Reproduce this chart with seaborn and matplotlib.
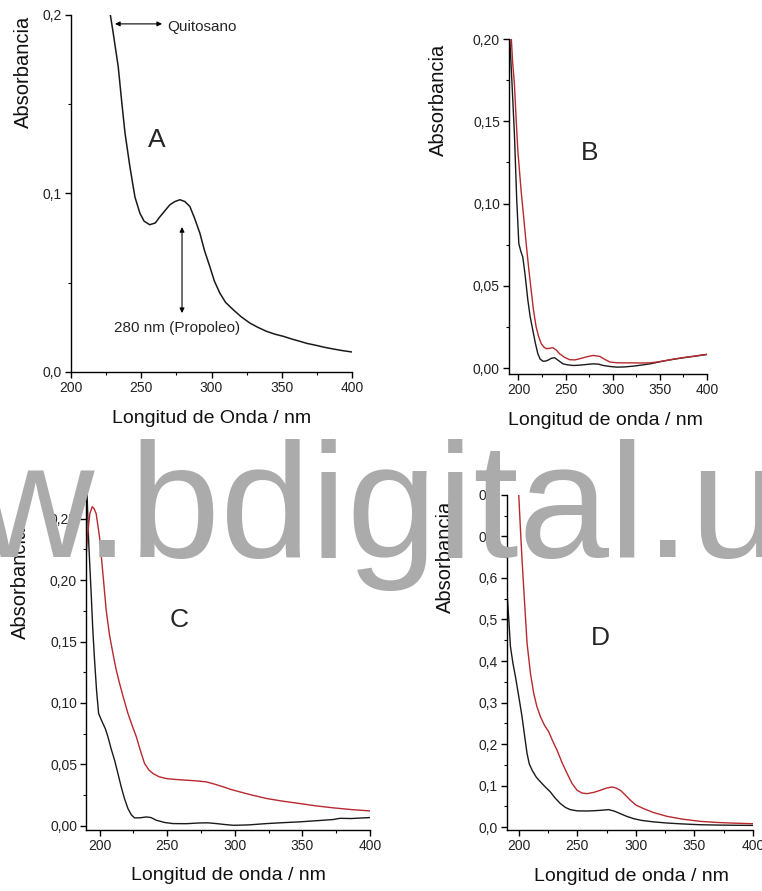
import matplotlib
matplotlib.use("Agg")
import matplotlib.pyplot as plt
import seaborn as sns

# Panel A - chitosan film (single spectrum)
a_nm = [228, 230, 233.6, 236, 238.4, 241.9, 245.5, 249, 252, 256, 260, 263.3, 267, 270.4,
        274, 277.5, 281, 284.6, 288, 291.7, 295, 298.8, 302, 305.9, 310, 315.4, 321, 327.3,
        333, 339.1, 345, 351, 357, 362.8, 368, 374.6, 380, 386.5, 393, 400]
a_abs = [0.200, 0.190, 0.171, 0.152, 0.134, 0.115, 0.098, 0.089, 0.0845, 0.0825, 0.0835,
         0.087, 0.0905, 0.0937, 0.0955, 0.0965, 0.0955, 0.0927, 0.086, 0.0778, 0.068, 0.059,
         0.051, 0.0442, 0.039, 0.0349, 0.031, 0.0274, 0.025, 0.0228, 0.0212, 0.0200, 0.0185,
         0.0172, 0.016, 0.0149, 0.0139, 0.0129, 0.0120, 0.0112]

# Panel B
b_nm_black = [190.4, 193, 195.7, 198.2, 200.4, 202.5, 204.6, 207, 210, 212.5, 215.3, 218,
              220.6, 223, 226, 229, 232, 235, 238.4, 242, 247.2, 252, 258, 265, 272, 279.2,
              285, 290, 297, 304, 312, 321.8, 330, 339.6, 348, 357.4, 366, 375, 388, 400]
b_abs_black = [0.205, 0.175, 0.1426, 0.102, 0.0757, 0.071, 0.0675, 0.057, 0.0412, 0.031,
               0.0229, 0.015, 0.0087, 0.0055, 0.0042, 0.0043, 0.005, 0.006, 0.0063, 0.0048,
               0.0026, 0.002, 0.0016, 0.0018, 0.0022, 0.0026, 0.0024, 0.0016, 0.001, 0.0006,
               0.0007, 0.0012, 0.0018, 0.0026, 0.0036, 0.0047, 0.0055, 0.0063, 0.0073, 0.0083]
b_nm_red = [192, 193.8, 195.7, 197.5, 199.3, 202.8, 205.5, 208.2, 211, 213.5, 216, 218.8,
            221.5, 224.2, 227, 229.5, 233, 236.6, 240, 243.7, 249, 254.4, 260, 265, 272,
            279.2, 286.3, 292, 297, 305, 321.8, 330, 339.6, 348, 357.4, 366, 375, 388, 400]
b_abs_red = [0.205, 0.186, 0.173, 0.152, 0.1325, 0.108, 0.092, 0.0757, 0.060, 0.0473, 0.035,
             0.025, 0.019, 0.0148, 0.0128, 0.0118, 0.0120, 0.0124, 0.011, 0.0087, 0.0065,
             0.0051, 0.005, 0.0057, 0.0068, 0.0077, 0.0071, 0.0052, 0.0037, 0.0032, 0.0032,
             0.0031, 0.0032, 0.0038, 0.0047, 0.0056, 0.0064, 0.0074, 0.0084]

# Panel C
c_nm_black = [190.6, 192, 193.8, 195, 196.3, 197.8, 199.3, 201, 202.5, 204.3, 206.2, 208.5,
              211.1, 213.5, 216, 218.5, 221, 223.5, 225.9, 230, 234.6, 238, 242, 248, 254.3,
              264, 274, 280, 286.4, 292, 298.8, 310, 323.5, 335, 348, 360, 372.8, 378, 386, 400]
c_abs_black = [0.275, 0.23, 0.189, 0.16, 0.135, 0.11, 0.0915, 0.087, 0.0833, 0.079, 0.0725,
               0.063, 0.0535, 0.043, 0.0318, 0.022, 0.0141, 0.009, 0.0065, 0.0066, 0.0073,
               0.0068, 0.0046, 0.0028, 0.0019, 0.0018, 0.0024, 0.0025, 0.0019, 0.0012, 0.0005,
               0.0008, 0.0019, 0.0026, 0.0033, 0.0042, 0.0052, 0.0062, 0.006, 0.0068]
c_nm_red = [189.6, 191, 192.8, 194.6, 196, 197.5, 200, 202.5, 204.9, 207.4, 209.9, 212.3,
            214.8, 218, 221, 224, 227.2, 230, 233.3, 236.5, 239.5, 244, 249.4, 256, 264.2,
            272, 279, 285, 291.4, 297, 303.7, 313, 323.5, 335, 348.1, 360, 372.8, 386, 400]
c_abs_red = [0.211, 0.235, 0.254, 0.2597, 0.258, 0.254, 0.235, 0.205, 0.1756, 0.155, 0.1403,
             0.127, 0.1159, 0.103, 0.0915, 0.082, 0.0725, 0.062, 0.0507, 0.0455, 0.0426, 0.040,
             0.0385, 0.0378, 0.0372, 0.0366, 0.0358, 0.034, 0.0318, 0.0297, 0.0277, 0.025,
             0.0223, 0.0202, 0.0182, 0.0163, 0.0147, 0.0133, 0.0122]

# Panel D
d_nm_black = [190, 191.5, 192.9, 195, 197.2, 200, 202.8, 205, 207.1, 209, 211.4, 215, 218.5,
              222.5, 227, 231, 235.6, 240, 244.1, 250, 258.3, 264, 269.7, 276.8, 282, 286.8,
              292, 298.2, 305, 315, 326.6, 340, 355, 370, 385, 400]
d_abs_black = [0.564, 0.5, 0.435, 0.395, 0.362, 0.315, 0.266, 0.22, 0.177, 0.152, 0.137,
               0.12, 0.109, 0.097, 0.0846, 0.07, 0.0564, 0.047, 0.0419, 0.039, 0.0387, 0.0393,
               0.0403, 0.042, 0.038, 0.0322, 0.026, 0.0201, 0.016, 0.0125, 0.0097, 0.0075,
               0.0056, 0.0048, 0.0043, 0.004]
d_nm_red = [200, 201.4, 202.8, 205, 207.1, 210, 212.8, 215.5, 218.5, 222, 225.6, 229, 232.7,
            237, 241.3, 245.5, 249.8, 254, 258.3, 264, 269.7, 275, 279.7, 283, 286.8, 291,
            295.4, 300, 306.7, 315, 326.6, 340, 355, 370, 385, 400]
d_abs_red = [0.80, 0.72, 0.644, 0.54, 0.443, 0.37, 0.322, 0.29, 0.266, 0.245, 0.2295, 0.207,
             0.185, 0.155, 0.129, 0.105, 0.0886, 0.082, 0.0805, 0.0835, 0.0886, 0.094, 0.0966,
             0.094, 0.0886, 0.077, 0.0644, 0.053, 0.0443, 0.035, 0.0258, 0.019, 0.0137, 0.011,
             0.0093, 0.008]

x_ticks = [200, 250, 300, 350, 400]

sns.set_theme(style="ticks")
plt.rcParams["font.family"] = ["Liberation Sans", "DejaVu Sans"]

BLACK = "#1a1a1a"
RED = "#b8282e"

fig = plt.figure(figsize=(7.62, 8.91), dpi=100)


def style_axes(ax, xlim, ylim, yticks, ylabels, yminor, xlabel, ylab_xy, xlab_xy):
    ax.set_xlim(*xlim)
    ax.set_ylim(*ylim)
    ax.set_xticks(x_ticks, [str(t) for t in x_ticks])
    ax.set_xticks([225, 275, 325, 375], minor=True)
    ax.set_yticks(yticks, ylabels)
    ax.set_yticks(yminor, minor=True)
    ax.tick_params(which="major", direction="out", length=4, width=1, labelsize=10,
                   pad=2.5, color="black", labelcolor="#222222")
    ax.tick_params(which="minor", direction="out", length=2.5, width=0.8, color="black")
    for s in ["left", "bottom"]:
        ax.spines[s].set_linewidth(1.0)
        ax.spines[s].set_color("black")
    sns.despine(ax=ax)
    ax.set_xlabel(xlabel, fontsize=14, va="center", color="#111111")
    ax.set_ylabel("Absorbancia", fontsize=14.5, va="center", color="#111111")
    ax.xaxis.set_label_coords(*xlab_xy)
    ax.yaxis.set_label_coords(*ylab_xy)
    ax.grid(False)


# ---- A ----
axA = fig.add_axes([0.0932, 0.5825, 0.3688, 0.4007])
sns.lineplot(x=a_nm, y=a_abs, ax=axA, color=BLACK, lw=1.1, sort=False, estimator=None)
style_axes(axA, (200, 400), (0, 0.2), [0.0, 0.1, 0.2], ["0,0", "0,1", "0,2"], [0.05, 0.15],
           "Longitud de Onda / nm", (-0.171, 0.84), (0.5, -0.129))
axA.text(261, 0.13, "A", fontsize=19, ha="center", va="center")
axA.annotate("", xy=(231.3, 0.195), xytext=(264.8, 0.195),
             arrowprops=dict(arrowstyle="<|-|>", color="black", lw=0.8,
                             mutation_scale=7, shrinkA=0, shrinkB=0))
axA.text(268.3, 0.1935, "Quitosano", fontsize=11, ha="left", va="center")
axA.annotate("", xy=(279, 0.0812), xytext=(279, 0.033),
             arrowprops=dict(arrowstyle="<|-|>", color="black", lw=0.8,
                             mutation_scale=7, shrinkA=0, shrinkB=0))
axA.text(275.4, 0.0247, "280 nm (Propoleo)", fontsize=11, ha="center", va="center")

# ---- B ----
axB = fig.add_axes([0.668, 0.5802, 0.2598, 0.376])
sns.lineplot(x=b_nm_black, y=b_abs_black, ax=axB, color=BLACK, lw=1.0, sort=False, estimator=None)
sns.lineplot(x=b_nm_red, y=b_abs_red, ax=axB, color=RED, lw=1.0, sort=False, estimator=None)
style_axes(axB, (190, 400), (-0.0036, 0.2), [0.0, 0.05, 0.1, 0.15, 0.2],
           ["0,00", "0,05", "0,10", "0,15", "0,20"], [0.025, 0.075, 0.125, 0.175],
           "Longitud de onda / nm", (-0.354, 0.818), (0.485, -0.14))
axB.text(275.9, 0.1307, "B", fontsize=19, ha="center", va="center")

# ---- C ----
axC = fig.add_axes([0.1129, 0.0685, 0.3727, 0.378])
sns.lineplot(x=c_nm_black, y=c_abs_black, ax=axC, color=BLACK, lw=1.0, sort=False, estimator=None)
sns.lineplot(x=c_nm_red, y=c_abs_red, ax=axC, color=RED, lw=1.0, sort=False, estimator=None)
style_axes(axC, (190, 400), (-0.0033, 0.2707), [0.0, 0.05, 0.1, 0.15, 0.2, 0.25],
           ["0,00", "0,05", "0,10", "0,15", "0,20", "0,25"],
           [0.025, 0.075, 0.125, 0.175, 0.225],
           "Longitud de onda / nm", (-0.232, 0.733), (0.5, -0.134))
axC.text(258.8, 0.1675, "C", fontsize=19, ha="center", va="center")

# ---- D ----
axD = fig.add_axes([0.6654, 0.0685, 0.3228, 0.376])
sns.lineplot(x=d_nm_black, y=d_abs_black, ax=axD, color=BLACK, lw=1.0, sort=False, estimator=None)
sns.lineplot(x=d_nm_red, y=d_abs_red, ax=axD, color=RED, lw=1.0, sort=False, estimator=None)
d_ticks = [0.0, 0.1, 0.2, 0.3, 0.4, 0.5, 0.6, 0.7, 0.8]
style_axes(axD, (190, 400), (-0.007, 0.8), d_ticks,
           ["0,0", "0,1", "0,2", "0,3", "0,4", "0,5", "0,6", "0,7", "0,8"],
           [0.05, 0.15, 0.25, 0.35, 0.45, 0.55, 0.65, 0.75],
           "Longitud de onda / nm", (-0.252, 0.815), (0.504, -0.14))
axD.text(269.4, 0.455, "D", fontsize=19, ha="center", va="center")

# watermark across the middle of the figure
fig.text(0.497, 0.3749, "w.bdigital.u", fontsize=117, color="#ababab",
         ha="center", va="baseline", zorder=10)

fig.savefig("out.png", dpi=100)
